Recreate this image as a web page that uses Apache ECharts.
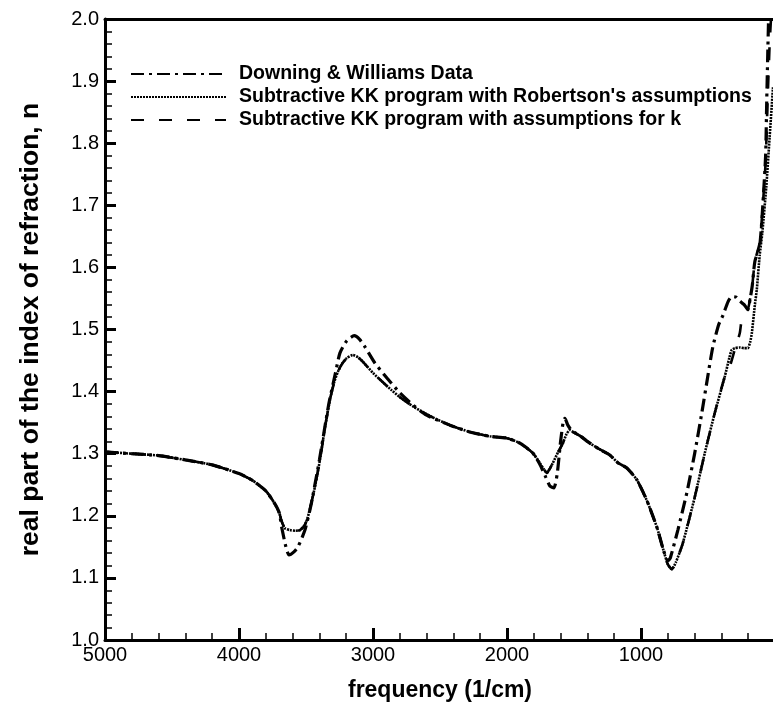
<!DOCTYPE html>
<html>
<head>
<meta charset="utf-8">
<script src="https://cdn.jsdelivr.net/npm/echarts@6/dist/echarts.min.js"></script>
<style>
html,body{margin:0;padding:0;background:#fff;}
#chart{width:773px;height:714px;}
</style>
</head>
<body>
<div id="chart"></div>
<script>
// ---- data (frequency in 1/cm, real index n) ----
const seriesNames = [
  "Downing & Williams Data",
  "Subtractive KK program with Robertson's assumptions",
  "Subtractive KK program with assumptions for k"
];

const freqDW = [5000,4800,4600,4400,4200,4000,3900,3800,3740,3700,3680,3650,3627,3590,3560,3508,3460,3400,3330,3280,3247,3195,3140,3100,3060,2986,2896,2800,2700,2600,2426,2277,2128,2000,1904,1807,1755,1710,1680,1650,1625,1600,1580,1568,1546,1520,1450,1382,1300,1233,1170,1106,1031,957,882,837,810,795,780,725,658,599,546,502,464,420,390,350,323,290,263,230,203,185,170,150,114,91,70,62,54,48];
const nDW    = [1.303,1.300,1.297,1.290,1.282,1.268,1.257,1.240,1.222,1.205,1.180,1.150,1.137,1.142,1.150,1.177,1.220,1.290,1.380,1.430,1.462,1.482,1.490,1.484,1.472,1.446,1.422,1.398,1.378,1.362,1.346,1.335,1.328,1.325,1.317,1.301,1.283,1.262,1.248,1.245,1.268,1.320,1.352,1.357,1.346,1.338,1.328,1.317,1.306,1.298,1.285,1.277,1.258,1.225,1.182,1.148,1.131,1.128,1.133,1.177,1.237,1.301,1.366,1.424,1.472,1.508,1.522,1.545,1.553,1.552,1.546,1.540,1.532,1.550,1.570,1.610,1.635,1.700,1.780,1.865,1.945,2.000];

const freqKR = [5000,4800,4600,4400,4200,4000,3900,3800,3740,3700,3680,3657,3620,3580,3545,3510,3486,3440,3396,3360,3322,3290,3262,3230,3195,3150,3110,3075,3000,2926,2860,2799,2700,2628,2550,2426,2277,2128,2000,1904,1807,1755,1725,1703,1680,1658,1620,1583,1555,1531,1500,1450,1382,1300,1233,1170,1106,1031,957,882,837,800,770,740,688,599,524,449,375,340,323,300,263,230,203,185,173,150,136,114,95,65,40,15];
const nKR    = [1.303,1.300,1.297,1.290,1.282,1.268,1.257,1.240,1.222,1.205,1.190,1.180,1.177,1.176,1.177,1.185,1.198,1.240,1.290,1.340,1.386,1.415,1.432,1.445,1.454,1.459,1.455,1.448,1.430,1.415,1.402,1.391,1.376,1.367,1.358,1.346,1.335,1.328,1.325,1.317,1.301,1.285,1.275,1.269,1.276,1.285,1.302,1.317,1.332,1.338,1.334,1.328,1.317,1.306,1.298,1.285,1.277,1.258,1.225,1.182,1.148,1.122,1.114,1.125,1.156,1.230,1.301,1.366,1.424,1.455,1.467,1.470,1.471,1.470,1.470,1.480,1.494,1.540,1.564,1.620,1.655,1.730,1.810,1.890];

const freqKK = [5000,4800,4600,4400,4200,4000,3900,3800,3740,3700,3680,3657,3620,3580,3545,3510,3486,3440,3396,3360,3322,3290,3262,3230,3195,3150,3110,3075,3000,2926,2860,2799,2700,2628,2550,2426,2277,2128,2000,1904,1807,1755,1725,1703,1680,1658,1620,1583,1555,1531,1500,1450,1382,1300,1233,1170,1106,1031,957,882,837,800,770,740,688,599,524,449,375,338,301,263,248,203,185,170,150,114,91,70,55,40,30];
const nKK    = [1.303,1.300,1.297,1.290,1.282,1.268,1.257,1.240,1.222,1.205,1.190,1.180,1.177,1.176,1.177,1.185,1.198,1.240,1.290,1.340,1.386,1.415,1.432,1.445,1.454,1.459,1.455,1.448,1.430,1.415,1.402,1.391,1.376,1.367,1.358,1.346,1.335,1.328,1.325,1.317,1.301,1.285,1.275,1.269,1.276,1.285,1.302,1.317,1.332,1.338,1.334,1.328,1.317,1.306,1.298,1.285,1.277,1.258,1.225,1.182,1.148,1.122,1.114,1.125,1.156,1.230,1.301,1.366,1.424,1.440,1.467,1.494,1.515,1.532,1.550,1.570,1.610,1.640,1.700,1.770,1.870,1.960,2.000];

const xTickValues = [5000,4000,3000,2000,1000];
const yTickValues = [1.0,1.1,1.2,1.3,1.4,1.5,1.6,1.7,1.8,1.9,2.0];

function zip(xs, ys){ return xs.map((x,i)=>[x, ys[i]]); }

const FONT = '"Liberation Sans", Arial, Helvetica, sans-serif';
const chart = echarts.init(document.getElementById('chart'), null, {renderer:'canvas'});

const axisLineStyle = {color:'#000', width:3};

chart.setOption({
  animation:false,
  backgroundColor:'#fff',
  grid:{left:105, right:-2, top:19, bottom:74, containLabel:false, outerBoundsMode:'none'},
  legend:{
    show:true,
    orient:'vertical',
    left:125, top:59,
    itemWidth:95, itemHeight:14, itemGap:3,
    data:seriesNames,
    itemStyle:{opacity:0},
    textStyle:{fontFamily:FONT, fontWeight:'bold', fontSize:19.5, color:'#000', lineHeight:14, padding:[0,0,0,8]},
    inactiveColor:'#000'
  },
  xAxis:[{
    type:'value', inverse:true, min:0, max:5000, interval:1000,
    name:'frequency (1/cm)', nameLocation:'middle', nameGap:39,
    nameTextStyle:{fontFamily:FONT, fontWeight:'bold', fontSize:23, color:'#000'},
    axisLine:{show:true, onZero:false, lineStyle:axisLineStyle},
    axisTick:{show:true, inside:true, length:12, lineStyle:{color:'#000', width:3}},
    minorTick:{show:true, splitNumber:5, length:7, lineStyle:{color:'#000', width:1.5}},
    axisLabel:{fontFamily:FONT, fontSize:20, color:'#000', margin:5,
      formatter:function(v){ return xTickValues.indexOf(v) >= 0 ? String(v) : ''; }},
    splitLine:{show:false}
  },{
    type:'value', position:'top', inverse:true, min:0, max:5000,
    axisLine:{show:true, onZero:false, lineStyle:axisLineStyle},
    axisTick:{show:false}, axisLabel:{show:false}, splitLine:{show:false}
  }],
  yAxis:{
    type:'value', min:1.0, max:2.0, interval:0.1,
    name:'real part of the index of refraction, n', nameLocation:'middle', nameGap:61,
    nameRotate:90,
    nameTextStyle:{fontFamily:FONT, fontWeight:'bold', fontSize:26.5, color:'#000'},
    axisLine:{show:true, onZero:false, lineStyle:axisLineStyle},
    axisTick:{show:true, inside:true, length:11, lineStyle:{color:'#000', width:3}},
    minorTick:{show:true, splitNumber:5, length:7, lineStyle:{color:'#000', width:1.5}},
    axisLabel:{fontFamily:FONT, fontSize:20, color:'#000', margin:6,
      formatter:function(v){ return v.toFixed(1); }},
    splitLine:{show:false}
  },
  series:[
    {name:seriesNames[0], type:'line', data:zip(freqDW,nDW), showSymbol:false, symbol:'none',
     smooth:0.2, color:'#000', lineStyle:{color:'#000', width:3.2, type:[13,5,3,5]}, z:4},
    {name:seriesNames[1], type:'line', data:zip(freqKR,nKR), showSymbol:false, symbol:'none',
     smooth:0.2, color:'#000', lineStyle:{color:'#000', width:2.6, type:[2,1]}, z:3},
    {name:seriesNames[2], type:'line', data:zip(freqKK,nKK), showSymbol:false, symbol:'none',
     smooth:0.2, color:'#000', lineStyle:{color:'#000', width:2.6, type:[13,15]}, z:3}
  ]
});
</script>
</body>
</html>
